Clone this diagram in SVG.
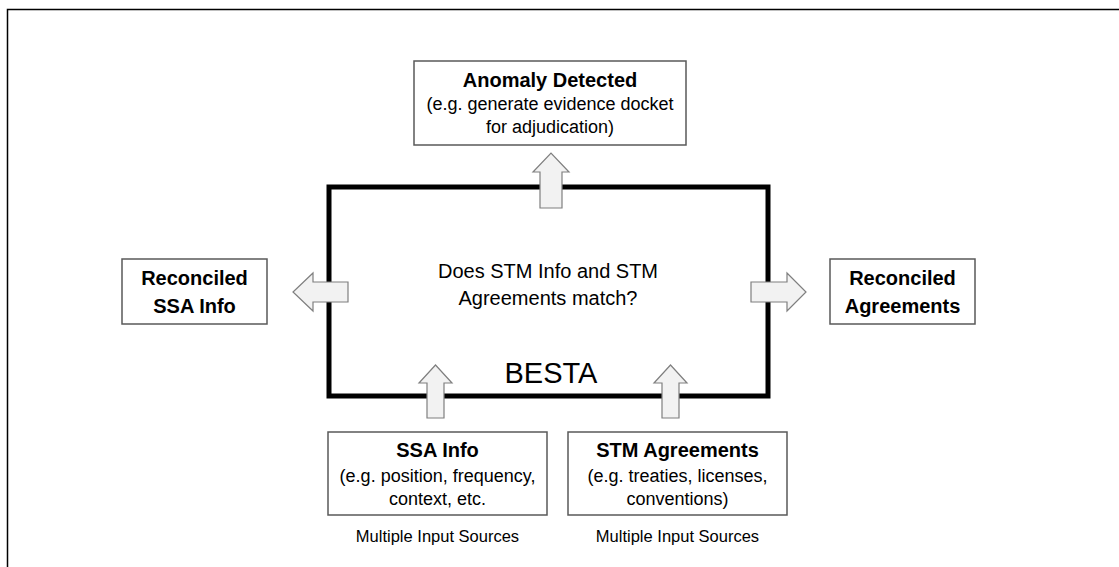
<svg xmlns="http://www.w3.org/2000/svg" width="1119" height="567" viewBox="0 0 1119 567">
<style>
.t{font-family:"Liberation Sans",Arial,sans-serif;fill:#000;text-anchor:middle}
.b{font-weight:bold;font-size:20px}
.r{font-size:18px}
.s{font-size:16.5px}
.box{fill:#fff;stroke:#595959;stroke-width:1.5}
.arr{fill:#f2f2f2;stroke:#7f7f7f;stroke-width:1.2;stroke-linejoin:miter}
</style>
<rect width="1119" height="567" fill="#fff"/>
<g id="frame">
<path d="M7.5 567 V9.5 H1119" fill="none" stroke="#000" stroke-width="1.5"/>
</g>
<g id="besta">
<rect x="329" y="187" width="439" height="209" fill="#fff" stroke="#000" stroke-width="5"/>
<text class="t" x="548" y="278" font-size="20">Does STM Info and STM</text>
<text class="t" x="548" y="305" font-size="20">Agreements match?</text>
<text class="t" x="551" y="383" font-size="29">BESTA</text>
</g>
<g id="anomaly">
<rect class="box" x="414" y="61" width="272" height="84"/>
<text class="t b" x="550" y="87">Anomaly Detected</text>
<text class="t r" x="550" y="110">(e.g. generate evidence docket</text>
<text class="t r" x="550" y="133">for adjudication)</text>
</g>
<g id="reconciled-ssa">
<rect class="box" x="122" y="259" width="145" height="65"/>
<text class="t b" x="194.5" y="285">Reconciled</text>
<text class="t b" x="194.5" y="313">SSA Info</text>
</g>
<g id="reconciled-agreements">
<rect class="box" x="830" y="259" width="145" height="65"/>
<text class="t b" x="902.5" y="285">Reconciled</text>
<text class="t b" x="902.5" y="313">Agreements</text>
</g>
<g id="ssa-info">
<rect class="box" x="328" y="432" width="219" height="83"/>
<text class="t b" x="437.5" y="457">SSA Info</text>
<text class="t r" x="437.5" y="482">(e.g. position, frequency,</text>
<text class="t r" x="437.5" y="505">context, etc.</text>
<text class="t s" x="437.5" y="542">Multiple Input Sources</text>
</g>
<g id="stm-agreements">
<rect class="box" x="568" y="432" width="219" height="83"/>
<text class="t b" x="677.5" y="457">STM Agreements</text>
<text class="t r" x="677.5" y="482">(e.g. treaties, licenses,</text>
<text class="t r" x="677.5" y="505">conventions)</text>
<text class="t s" x="677.5" y="542">Multiple Input Sources</text>
</g>
<g id="connectors">
<path class="arr" d="M540 208 V172 H533 L551 153 L569 172 H562 V208 Z"/>
<path class="arr" d="M348 282 H313 V273 L293 292 L313 311 V302 H348 Z"/>
<path class="arr" d="M751 282 H787 V273 L806 292 L787 311 V302 H751 Z"/>
<path class="arr" d="M427 418 V383 H419 L435.5 365 L452 383 H444 V418 Z"/>
<path class="arr" d="M662 418 V383 H654 L670.5 365 L687 383 H679 V418 Z"/>
</g>
</svg>
